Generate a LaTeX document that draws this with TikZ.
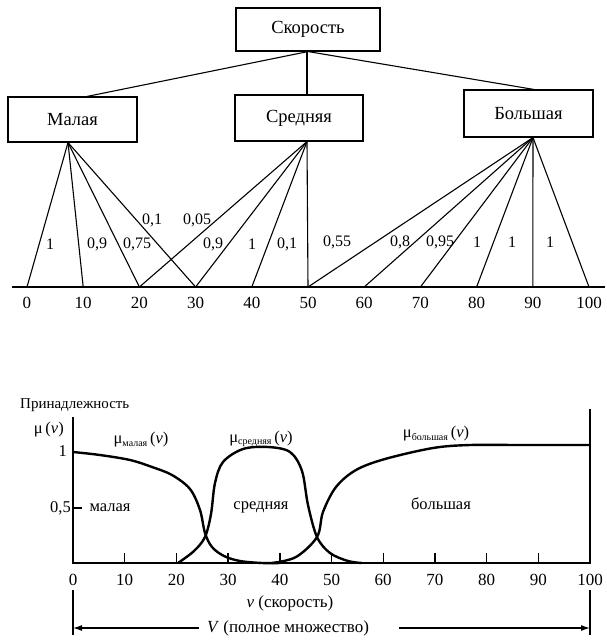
\documentclass[tikz,border=0pt]{standalone}
\usepackage{fontspec}
\setmainfont{Liberation Serif}
\usetikzlibrary{arrows.meta}
\newcommand{\musub}[1]{μ\raisebox{-2.5pt}{\fontsize{10}{10}\selectfont #1}\,(\textit{v})}
\begin{document}
\begin{tikzpicture}[x=1pt,y=-1pt,
  box/.style={draw, line width=1.1pt, inner sep=0pt, font=\fontsize{18.5}{18.5}\selectfont},
  num/.style={inner sep=0pt, font=\fontsize{16}{16}\selectfont},
  axnum/.style={inner sep=0pt, font=\fontsize{17}{17}\selectfont},
  lbl/.style={inner sep=0pt, font=\fontsize{16.5}{16.5}\selectfont},
  edge/.style={line width=1.1pt},
  axis/.style={line width=1.4pt},
  curve/.style={line width=2.4pt, line join=round},
  tip/.style={-{Latex[length=9pt,width=6pt]}, line width=1.2pt}]
\useasboundingbox (0,0) rectangle (607,641);

% ---------- top hierarchy ----------
\node[box, minimum width=144pt, minimum height=43pt] (sk) at (308,29.5) {Скорость};
\node[box, minimum width=129pt, minimum height=45pt] (ma) at (72.5,119.5) {Малая};
\node[box, minimum width=128pt, minimum height=46pt] (sr) at (299,118) {Средняя};
\node[box, minimum width=129pt, minimum height=47pt] (bo) at (528.5,113.5) {Большая};

\draw[edge] (sk.south) -- ([xshift=14.5pt]ma.north);
\draw[edge] ([xshift=-1pt]sk.south) -- ([xshift=8pt]sr.north);
\draw[edge] (sk.south) -- ([xshift=5.5pt]bo.north);

\coordinate (mA) at ([xshift=-4.5pt]ma.south);
\coordinate (sA) at ([xshift=8pt]sr.south);
\coordinate (bA) at ([xshift=4.5pt]bo.south);

% top axis
\coordinate (axL) at (12,287);
\coordinate (axR) at (605,287);
\draw[axis] (axL) -- (axR);
\foreach \v in {0,10,...,100}{
  \coordinate (t\v) at ({27+5.62*\v},287);
  \node[axnum] (tl\v) at ({27+5.62*\v},303) {\v};
}

% fan edges
\foreach \v in {0,10,20,30}{\draw[edge] (mA) -- (t\v);}
\foreach \v in {20,30,40,50}{\draw[edge] (sA) -- (t\v);}
\foreach \v in {50,60,70,80,90,100}{\draw[edge] (bA) -- (t\v);}

% membership values
\node[num] (w1) at (50,244) {1};
\node[num] (w2) at (97,244) {0,9};
\node[num] (w3) at (137,244) {0,75};
\node[num] (w4) at (152,220) {0,1};
\node[num] (w5) at (197,220) {0,05};
\node[num] (w6) at (213,244) {0,9};
\node[num] (w7) at (252,244) {1};
\node[num] (w8) at (287,244) {0,1};
\node[num] (w9) at (337,242) {0,55};
\node[num] (w10) at (400,242) {0,8};
\node[num] (w11) at (440,242) {0,95};
\node[num] (w12) at (477,242) {1};
\node[num] (w13) at (512,242) {1};
\node[num] (w14) at (550,242) {1};

% ---------- bottom chart ----------
\node[inner sep=0pt, anchor=west, font=\fontsize{15}{15}\selectfont] (title) at (20,405) {Принадлежность};
\node[lbl, anchor=east] (muv) at (64,430) {μ\,(\textit{v})};
\node[lbl, anchor=east] (one) at (67,451) {1};
\node[lbl, anchor=east] (half) at (71,508) {0,5};

\coordinate (O) at (73,563);
\coordinate (Ytop) at (73,417);
\coordinate (Xend) at (590,563);
\coordinate (Rtop) at (590,409);
\draw[axis] (Ytop) -- (O) -- (Xend) -- (Rtop);
\draw[axis] (73,508) -- (82,508);
\foreach \v in {10,20,...,90}{
  \draw[axis] ({73+5.17*\v},563) -- ({73+5.17*\v},553);
}
\foreach \v in {0,10,...,100}{
  \node[axnum] (bl\v) at ({73+5.17*\v},580) {\v};
}

% curves
\draw[curve] plot[smooth, tension=0.55] coordinates {
 (73,452) (100,455) (130,460) (152,467) (172,475) (190,489) (200,510) (205,533)
 (212,547) (224,556) (240,561) (262,563) (280,563)};
\draw[curve] plot[smooth, tension=0.55] coordinates {
 (178,563) (194,551) (205,537) (211,514) (215,483) (223,462) (243,449) (268,447)
 (290,452) (302,471) (308,505) (317,537) (330,553) (348,561) (362,563)};
\draw[curve] plot[smooth, tension=0.55] coordinates {
 (272,563) (296,557) (317,537) (323,512) (336,487) (356,470) (385,459) (433,448)
 (470,445) (520,445) (590,445)};

\node[lbl] (lm) at (110,508) {малая};
\node[lbl] (ls) at (261,507) {средняя};
\node[lbl] (lb) at (441,504) {большая};
\node[lbl] (mm) at (141,440) {\musub{малая}};
\node[lbl] (ms) at (261,439) {\musub{средняя}};
\node[lbl] (mb) at (436,434) {\musub{большая}};

\node[lbl, font=\fontsize{17}{17}\selectfont] (vs) at (290,603) {\textit{v} (скорость)};
\node[lbl, font=\fontsize{17}{17}\selectfont] (VV) at (288,628) {\textit{V} (полное множество)};

\coordinate (L1) at (73,590);
\coordinate (L2) at (73,635);
\coordinate (R1) at (590,590);
\coordinate (R2) at (590,635);
\draw[axis] (L1) -- (L2);
\draw[axis] (R1) -- (R2);
\coordinate (La) at (73,628);
\coordinate (Ra) at (590,628);
\draw[tip] ([xshift=-8pt]VV.west) -- (La);
\draw[tip] ([xshift=30pt]VV.east) -- (Ra);
\end{tikzpicture}
\end{document}
